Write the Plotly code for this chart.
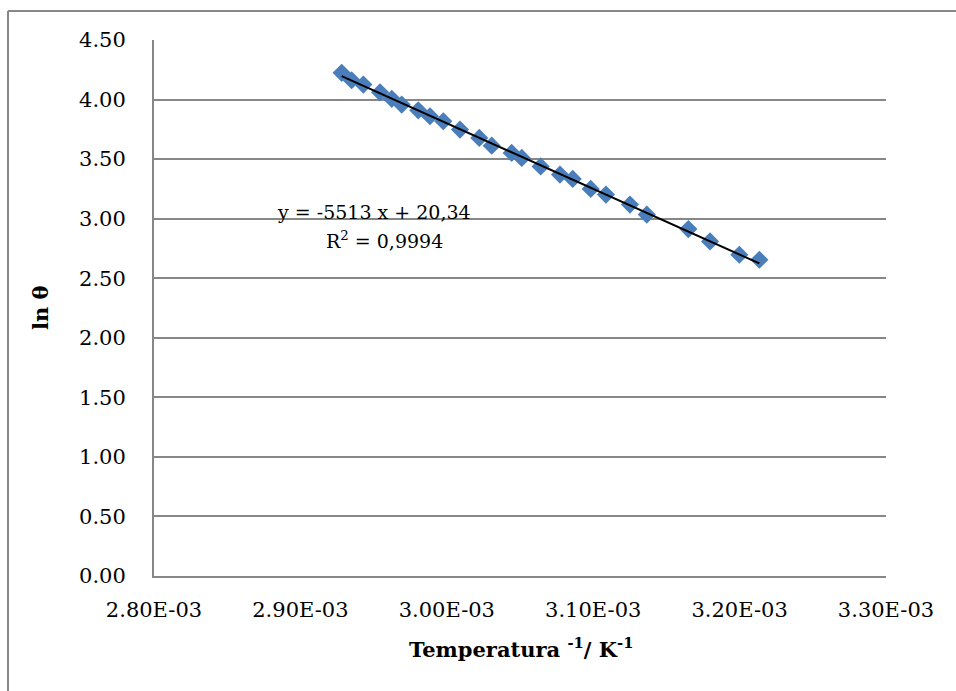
import plotly.graph_objects as go

# Reciprocal temperature (1/K) and ln(theta) measurements
inv_temp = [2.9282e-3, 2.9350e-3, 2.9430e-3, 2.9544e-3, 2.9624e-3, 2.9692e-3,
            2.9805e-3, 2.9885e-3, 2.9976e-3, 3.0090e-3, 3.0222e-3, 3.0307e-3,
            3.0443e-3, 3.0512e-3, 3.0641e-3, 3.0773e-3, 3.0860e-3, 3.0983e-3,
            3.1087e-3, 3.1251e-3, 3.1366e-3, 3.1650e-3, 3.1798e-3, 3.1998e-3,
            3.2135e-3]
ln_theta = [4.224, 4.162, 4.126, 4.061, 4.006, 3.958, 3.910, 3.860, 3.818,
            3.748, 3.678, 3.613, 3.552, 3.510, 3.439, 3.370, 3.334, 3.250,
            3.202, 3.118, 3.034, 2.913, 2.809, 2.697, 2.655]

# Linear trendline coefficients
slope = -5513
intercept = 20.34
r_squared = "0,9994"

x_tickvals = [2.80e-3, 2.90e-3, 3.00e-3, 3.10e-3, 3.20e-3, 3.30e-3]
x_ticktext = ["2.80E-03", "2.90E-03", "3.00E-03", "3.10E-03", "3.20E-03", "3.30E-03"]

W, H = 956, 691
L, R, T, B = 154, 70, 40, 115
pw, ph = W - L - R, H - T - B

def px_x(p):
    return (p - L) / pw

def px_y(p):
    return (H - B - p) / ph

x_fit = [min(inv_temp), max(inv_temp)]
y_fit = [slope * v + intercept for v in x_fit]

serif = "DejaVu Serif"
grid_col = "#878787"

fig = go.Figure()
fig.add_trace(go.Scatter(
    x=inv_temp, y=ln_theta, mode="markers",
    marker=dict(symbol="diamond", size=14, color="#4A7EBB",
                line=dict(width=0)),
    showlegend=False,
))
fig.add_trace(go.Scatter(
    x=x_fit, y=y_fit, mode="lines",
    line=dict(color="black", width=2),
    showlegend=False,
))

fig.update_layout(
    width=W, height=H,
    margin=dict(l=L, r=R, t=T, b=B, pad=0),
    paper_bgcolor="white", plot_bgcolor="white",
    font=dict(family=serif, size=21, color="black"),
    xaxis=dict(
        range=[2.8e-3, 3.3e-3], tickvals=x_tickvals, ticktext=x_ticktext,
        showgrid=False, zeroline=False, showline=True,
        linecolor=grid_col, linewidth=2, ticks="", ticklabelstandoff=14,
        tickfont=dict(family=serif, size=21),
    ),
    yaxis=dict(
        range=[0, 4.5], dtick=0.5, tickformat=".2f",
        showgrid=True, gridcolor=grid_col, gridwidth=2,
        zeroline=False, showline=True, linecolor=grid_col, linewidth=2,
        ticks="", ticklabelstandoff=22,
        tickfont=dict(family=serif, size=21),
    ),
    shapes=[
        dict(type="line", xref="paper", yref="paper",
             x0=px_x(8), x1=px_x(8), y0=px_y(11), y1=px_y(700),
             line=dict(color=grid_col, width=2)),
        dict(type="line", xref="paper", yref="paper",
             x0=px_x(8), x1=px_x(960), y0=px_y(11), y1=px_y(11),
             line=dict(color=grid_col, width=2)),
    ],
    annotations=[
        dict(text=f"y = {slope} x + {intercept:.2f}".replace(".", ","),
             xref="paper", yref="paper", x=px_x(374), y=px_y(212),
             showarrow=False, font=dict(family=serif, size=19),
             xanchor="center", yanchor="middle"),
        dict(text=f"R<sup>2</sup> = {r_squared}",
             xref="paper", yref="paper", x=px_x(384), y=px_y(240),
             showarrow=False, font=dict(family=serif, size=19),
             xanchor="center", yanchor="middle"),
        dict(text="<b>ln θ</b>", textangle=-90,
             xref="paper", yref="paper", x=px_x(40), y=px_y(308),
             showarrow=False, font=dict(family=serif, size=21),
             xanchor="center", yanchor="middle"),
        dict(text="<b>Temperatura <sup>-1</sup>/ K<sup>-1</sup></b>",
             xref="paper", yref="paper", x=px_x(521), y=px_y(648),
             showarrow=False, font=dict(family=serif, size=21),
             xanchor="center", yanchor="middle"),
    ],
)

fig.write_html("out.html")
